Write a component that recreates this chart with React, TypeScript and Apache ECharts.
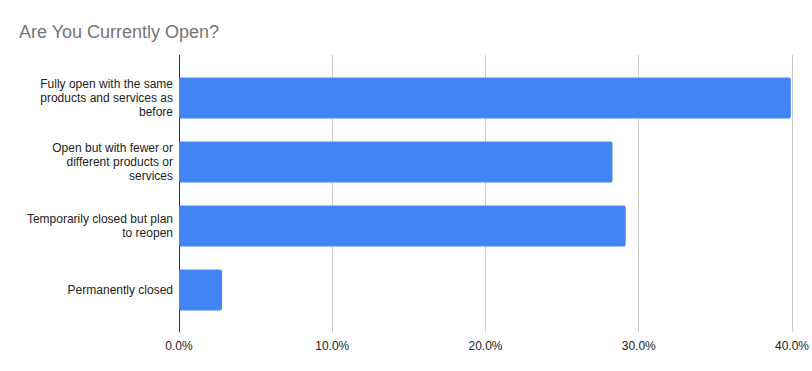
import React, { useEffect, useRef } from "react";
import * as echarts from "echarts";

const categories = [
  "Fully open with the same\nproducts and services as\nbefore",
  "Open but with fewer or\ndifferent products or\nservices",
  "Temporarily closed but plan\nto reopen",
  "Permanently closed",
];
const values = [0.3986, 0.2824, 0.291, 0.028];
const xTicks = { min: 0, max: 0.4, interval: 0.1 };

export default function App() {
  const ref = useRef<HTMLDivElement>(null);
  useEffect(() => {
    if (!ref.current) return;
    const chart = echarts.init(ref.current, null, { renderer: "svg" });
    const font = "'Liberation Sans', Arial, sans-serif";
    chart.setOption({
      animation: false,
      backgroundColor: "#ffffff",
      title: {
        text: "Are You Currently Open?",
        left: 14,
        top: 18,
        textStyle: { color: "#757575", fontSize: 18, fontWeight: "normal", fontFamily: font },
      },
      grid: [
        { left: 179, right: 19, top: 55, bottom: 39 },
        { left: 179, right: 19, top: 66, bottom: 49 },
      ],
      xAxis: [
        {
          type: "value",
          gridIndex: 0,
          min: xTicks.min,
          max: xTicks.max,
          interval: xTicks.interval,
          axisLine: { show: false },
          axisTick: { show: false },
          splitLine: { show: true, lineStyle: { color: "#cccccc", width: 1 } },
          axisLabel: {
            margin: 8,
            color: "#222222",
            fontSize: 12,
            fontFamily: font,
            formatter: (v: number) => (v * 100).toFixed(1) + "%",
          },
        },
        {
          type: "value",
          gridIndex: 1,
          min: xTicks.min,
          max: xTicks.max,
          interval: xTicks.interval,
          show: false,
          splitLine: { show: false },
        },
      ],
      yAxis: [
        {
          type: "category",
          gridIndex: 0,
          data: [""],
          axisLine: { show: true, lineStyle: { color: "#333333", width: 1 } },
          axisTick: { show: false },
          axisLabel: { show: false },
          splitLine: { show: false },
        },
        {
          type: "category",
          gridIndex: 1,
          inverse: true,
          data: categories,
          axisLine: { show: false },
          axisTick: { show: false },
          axisLabel: {
            margin: 6,
            color: "#222222",
            fontSize: 12,
            lineHeight: 14,
            align: "right",
            fontFamily: font,
          },
        },
      ],
      series: [
        {
          type: "bar",
          xAxisIndex: 1,
          yAxisIndex: 1,
          data: values,
          barWidth: 41,
          itemStyle: { color: "#4285F4", borderRadius: 2 },
        },
      ],
    });
    return () => chart.dispose();
  }, []);
  return <div ref={ref} style={{ width: 812, height: 371, position: "absolute", left: 0, top: 0 }} />;
}
